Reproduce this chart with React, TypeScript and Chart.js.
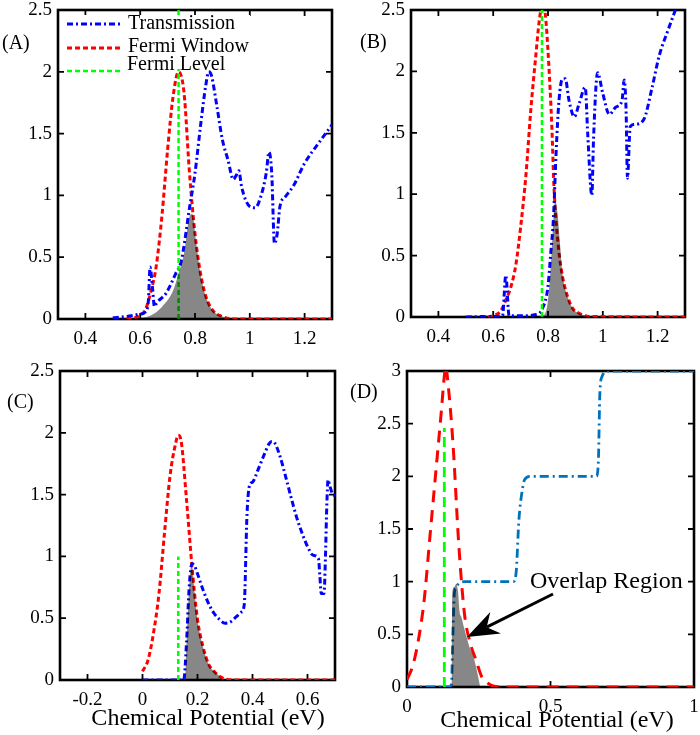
import React, { useEffect, useRef } from "react";
import { Chart, registerables } from "chart.js";

Chart.register(...registerables);

// ---------------- Data ----------------
// Panel A
const aTransX = [0.5, 0.55, 0.6, 0.62, 0.63, 0.636, 0.645, 0.652, 0.66, 0.695, 0.73, 0.75, 0.78, 0.8, 0.82, 0.84, 0.85, 0.86, 0.88, 0.9, 0.92, 0.94, 0.95, 0.96, 0.97, 1.0, 1.02, 1.04, 1.06, 1.07, 1.08, 1.09, 1.1, 1.11, 1.13, 1.16, 1.2, 1.25, 1.3];
const aTransY = [0.01, 0.02, 0.04, 0.06, 0.15, 0.42, 0.25, 0.1, 0.13, 0.21, 0.37, 0.47, 0.9, 1.18, 1.56, 1.9, 2.0, 1.97, 1.72, 1.45, 1.29, 1.13, 1.16, 1.2, 1.07, 0.91, 0.9, 0.99, 1.18, 1.35, 1.18, 0.61, 0.69, 0.91, 0.99, 1.08, 1.26, 1.42, 1.57];
const aWinX = [0.55, 0.58, 0.6, 0.62, 0.64, 0.658, 0.68, 0.7, 0.72, 0.74, 0.76, 0.78, 0.8, 0.82, 0.84, 0.865, 0.9, 0.95, 1.3];
const aWinY = [0.0, 0.01, 0.03, 0.08, 0.23, 0.42, 0.85, 1.37, 1.8, 2.0, 1.83, 1.18, 0.69, 0.37, 0.18, 0.07, 0.02, 0, 0];
const aLevelX = [0.74, 0.74];
const aLevelY = [0, 2.5];
const aOverX = [0.57, 0.64, 0.68, 0.72, 0.74, 0.76, 0.78, 0.79, 0.805, 0.82, 0.84, 0.865, 0.9, 0.93];
const aOverY = [0, 0.03, 0.1, 0.23, 0.37, 0.53, 0.83, 0.85, 0.61, 0.37, 0.18, 0.07, 0.02, 0];

// Panel B
const bTransX = [0.5, 0.6, 0.634, 0.646, 0.658, 0.7, 0.756, 0.78, 0.8, 0.81, 0.82, 0.83, 0.84, 0.853, 0.863, 0.877, 0.896, 0.914, 0.936, 0.945, 0.96, 0.966, 0.981, 1.0, 1.024, 1.048, 1.07, 1.078, 1.085, 1.09, 1.1, 1.12, 1.15, 1.18, 1.205, 1.237, 1.265];
const bTransY = [0, 0.005, 0.01, 0.34, 0.01, 0.01, 0.02, 0.07, 0.25, 0.52, 0.81, 1.36, 1.76, 1.94, 1.94, 1.76, 1.63, 1.74, 1.87, 1.49, 0.99, 1.44, 1.99, 1.82, 1.65, 1.71, 1.76, 1.93, 1.68, 1.13, 1.55, 1.57, 1.61, 1.87, 2.12, 2.33, 2.5];
const bWinX = [0.58, 0.6, 0.628, 0.646, 0.664, 0.683, 0.7, 0.72, 0.737, 0.756, 0.768, 0.78, 0.79, 0.802, 0.814, 0.822, 0.838, 0.853, 0.871, 0.89, 0.914, 0.95, 1.3];
const bWinY = [0, 0.01, 0.05, 0.14, 0.24, 0.43, 0.73, 1.17, 1.68, 2.14, 2.41, 2.55, 2.47, 2.09, 1.55, 1.05, 0.57, 0.33, 0.17, 0.07, 0.03, 0.005, 0];
const bLevelX = [0.778, 0.778];
const bLevelY = [0, 2.5];
const bOverX = [0.77, 0.79, 0.8, 0.81, 0.815, 0.82, 0.826, 0.835, 0.843, 0.853, 0.871, 0.89, 0.914, 0.95];
const bOverY = [0, 0.03, 0.14, 0.41, 0.6, 0.81, 0.95, 0.84, 0.62, 0.35, 0.17, 0.07, 0.03, 0];

// Panel C
const cTransX = [0, 0.15, 0.16, 0.17, 0.18, 0.19, 0.2, 0.22, 0.24, 0.26, 0.28, 0.3, 0.32, 0.34, 0.36, 0.37, 0.38, 0.39, 0.4, 0.42, 0.44, 0.46, 0.47, 0.48, 0.5, 0.52, 0.54, 0.56, 0.58, 0.6, 0.62, 0.64, 0.645, 0.65, 0.66, 0.665, 0.67, 0.675, 0.68, 0.69, 0.7];
const cTransY = [0, 0, 0.3, 0.76, 0.94, 0.92, 0.86, 0.73, 0.62, 0.54, 0.49, 0.46, 0.47, 0.51, 0.55, 0.61, 1.34, 1.58, 1.6, 1.7, 1.81, 1.91, 1.93, 1.92, 1.81, 1.65, 1.48, 1.32, 1.19, 1.08, 1.01, 0.98, 0.84, 0.7, 0.7, 0.97, 1.4, 1.62, 1.58, 1.51, 1.49];
const cWinX = [0, 0.02, 0.04, 0.06, 0.08, 0.1, 0.12, 0.13, 0.14, 0.16, 0.18, 0.2, 0.22, 0.24, 0.26, 0.28, 0.3, 0.35, 0.7];
const cWinY = [0.07, 0.16, 0.38, 0.7, 1.19, 1.65, 1.91, 1.98, 1.94, 1.46, 0.92, 0.49, 0.27, 0.13, 0.07, 0.03, 0.01, 0, 0];
const cLevelX = [0.13, 0.13];
const cLevelY = [0, 1.0];
const cOverX = [0.155, 0.16, 0.165, 0.17, 0.175, 0.18, 0.19, 0.2, 0.22, 0.24, 0.26, 0.28, 0.29];
const cOverY = [0, 0.3, 0.55, 0.76, 0.9, 0.92, 0.7, 0.49, 0.27, 0.13, 0.07, 0.03, 0];

// Panel D
const dTransX = [0, 0.15, 0.155, 0.16, 0.165, 0.17, 0.18, 0.2, 0.37, 0.38, 0.39, 0.4, 0.41, 0.43, 0.66, 0.667, 0.672, 0.68, 0.7, 1.0];
const dTransY = [0, 0, 0.04, 0.51, 0.89, 0.94, 0.98, 1.0, 1.0, 1.08, 1.59, 1.84, 1.97, 2.0, 2.0, 2.16, 2.79, 2.95, 3.0, 3.0];
const dWinX = [0, 0.02, 0.04, 0.06, 0.08, 0.1, 0.12, 0.13, 0.135, 0.14, 0.16, 0.18, 0.2, 0.22, 0.24, 0.26, 0.28, 0.3, 0.35, 1.0];
const dWinY = [0.07, 0.2, 0.45, 0.83, 1.43, 2.03, 2.63, 2.95, 3.05, 2.96, 2.32, 1.37, 0.7, 0.42, 0.26, 0.1, 0.04, 0.01, 0, 0];
const dLevelX = [0.13, 0.13];
const dLevelY = [0, 2.46];
const dOverX = [0.155, 0.158, 0.165, 0.172, 0.178, 0.183, 0.19, 0.2, 0.21, 0.22, 0.23, 0.24, 0.25, 0.255];
const dOverY = [0, 0.9, 0.95, 0.98, 0.9, 0.72, 0.66, 0.55, 0.45, 0.36, 0.3, 0.2, 0.07, 0];

// Ticks
const abXTicks = [0.4, 0.6, 0.8, 1, 1.2];
const cXTicks = [-0.2, 0, 0.2, 0.4, 0.6];
const dXTicks = [0, 0.5, 1];
const abcYTicks = [0, 0.5, 1, 1.5, 2, 2.5];
const dYTicks = [0, 0.5, 1, 1.5, 2, 2.5, 3];

// Texts
const legendLabels = ["Transmission", "Fermi Window", "Fermi Level"];
const panelLabels = ["(A)", "(B)", "(C)", "(D)"];
const xTitle = "Chemical Potential (eV)";
const overlapText = "Overlap Region";

// ---------------- Helpers ----------------
const FONT = "'Liberation Serif', 'Times New Roman', serif";

type Box = { x: number; y: number; w: number; h: number };
type Area = { l: number; t: number; r: number; b: number };

function pts(xs: number[], ys: number[]) {
  return xs.map((x, i) => ({ x, y: ys[i] }));
}

function lineDs(xs: number[], ys: number[], color: string, dash: number[], width: number, order: number, straight = false) {
  return {
    data: pts(xs, ys),
    borderColor: color,
    borderWidth: width,
    borderDash: dash,
    borderCapStyle: "butt",
    pointRadius: 0,
    fill: false,
    order,
    tension: 0,
    cubicInterpolationMode: straight ? "default" : "monotone",
  };
}

function fillDs(xs: number[], ys: number[]) {
  return {
    data: pts(xs, ys),
    borderColor: "rgba(0,0,0,0)",
    borderWidth: 0,
    backgroundColor: "rgba(0,0,0,0.47)",
    fill: "origin",
    pointRadius: 0,
    order: 0,
    cubicInterpolationMode: "monotone",
  };
}

function txt(ctx: CanvasRenderingContext2D, s: string, x: number, y: number, size: number, align: CanvasTextAlign = "left") {
  ctx.save();
  ctx.fillStyle = "#000";
  ctx.font = `${size}px ${FONT}`;
  ctx.textAlign = align;
  ctx.textBaseline = "middle";
  ctx.fillText(s, x, y);
  ctx.restore();
}

function dashLine(ctx: CanvasRenderingContext2D, x0: number, y0: number, x1: number, y1: number, color: string, dash: number[], w: number) {
  ctx.save();
  ctx.strokeStyle = color;
  ctx.lineWidth = w;
  ctx.setLineDash(dash);
  ctx.beginPath();
  ctx.moveTo(x0, y0);
  ctx.lineTo(x1, y1);
  ctx.stroke();
  ctx.restore();
}

function arrow(ctx: CanvasRenderingContext2D, x0: number, y0: number, x1: number, y1: number) {
  const dx = x1 - x0, dy = y1 - y0;
  const L = Math.hypot(dx, dy);
  const ux = dx / L, uy = dy / L, nx = -uy, ny = ux;
  const hl = 32, hw = 12, back = 22;
  ctx.save();
  ctx.strokeStyle = "#000";
  ctx.fillStyle = "#000";
  ctx.lineWidth = 3;
  ctx.beginPath();
  ctx.moveTo(x0, y0);
  ctx.lineTo(x1 - ux * back, y1 - uy * back);
  ctx.stroke();
  ctx.beginPath();
  ctx.moveTo(x1, y1);
  ctx.lineTo(x1 - ux * hl + nx * hw, y1 - uy * hl + ny * hw);
  ctx.lineTo(x1 - ux * back, y1 - uy * back);
  ctx.lineTo(x1 - ux * hl - nx * hw, y1 - uy * hl - ny * hw);
  ctx.closePath();
  ctx.fill();
  ctx.restore();
}

type PanelCfg = {
  box: Box;
  area: Area;
  xMin: number; xMax: number; yMin: number; yMax: number;
  xTicks: number[]; yTicks: number[];
  datasets: any[];
  extra: (ctx: CanvasRenderingContext2D) => void; // drawn in page coordinates
};

const fmt = (v: any) => String(Math.round(Number(v) * 100) / 100);

const framePlugin = {
  id: "frame",
  beforeDatasetsDraw(chart: any) {
    const { ctx, chartArea: a, scales } = chart;
    const xs = scales.x, ys = scales.y;
    ctx.save();
    ctx.strokeStyle = "#000";
    ctx.lineWidth = 1.8;
    ctx.beginPath();
    xs.ticks.forEach((t: any) => {
      const p = xs.getPixelForValue(t.value);
      ctx.moveTo(p, a.bottom); ctx.lineTo(p, a.bottom - 6);
      ctx.moveTo(p, a.top); ctx.lineTo(p, a.top + 6);
    });
    ys.ticks.forEach((t: any) => {
      const p = ys.getPixelForValue(t.value);
      ctx.moveTo(a.left, p); ctx.lineTo(a.left + 6, p);
      ctx.moveTo(a.right, p); ctx.lineTo(a.right - 6, p);
    });
    ctx.stroke();
    ctx.lineWidth = 2.6;
    ctx.strokeRect(a.left, a.top, a.right - a.left, a.bottom - a.top);
    ctx.restore();
  },
};

function makeConfig(cfg: PanelCfg): any {
  const { box, area } = cfg;
  const yW = area.l - box.x;
  const xH = box.y + box.h - area.b;
  const extraPlugin = {
    id: "extra",
    afterDraw(chart: any) {
      const ctx = chart.ctx as CanvasRenderingContext2D;
      ctx.save();
      ctx.translate(-box.x, -box.y);
      cfg.extra(ctx);
      ctx.restore();
    },
  };
  return {
    type: "line",
    data: { datasets: cfg.datasets },
    options: {
      animation: false,
      responsive: false,
      devicePixelRatio: 1,
      layout: { padding: { top: area.t - box.y, right: box.x + box.w - area.r, left: 0, bottom: 0 } },
      plugins: { legend: { display: false }, tooltip: { enabled: false } },
      scales: {
        x: {
          type: "linear",
          min: cfg.xMin,
          max: cfg.xMax,
          grid: { display: false, drawTicks: false },
          border: { display: false },
          ticks: { font: { family: FONT, size: 19 }, color: "#000", padding: 9, maxRotation: 0, autoSkip: false, callback: fmt },
          afterBuildTicks: (s: any) => { s.ticks = cfg.xTicks.map((v) => ({ value: v })); },
          afterFit: (s: any) => { s.height = xH; s.paddingLeft = 0; s.paddingRight = 0; s.paddingTop = 0; s.paddingBottom = 0; },
        },
        y: {
          type: "linear",
          min: cfg.yMin,
          max: cfg.yMax,
          grid: { display: false, drawTicks: false },
          border: { display: false },
          ticks: { font: { family: FONT, size: 19 }, color: "#000", padding: 6, autoSkip: false, callback: fmt },
          afterBuildTicks: (s: any) => { s.ticks = cfg.yTicks.map((v) => ({ value: v })); },
          afterFit: (s: any) => { s.width = yW; s.paddingLeft = 0; s.paddingRight = 0; s.paddingTop = 0; s.paddingBottom = 0; },
        },
      },
    },
    plugins: [framePlugin, extraPlugin],
  };
}

const BLUE = "#0000ff";
const RED = "#ff0000";
const GREEN = "#00ff00";
const DBLUE = "#0072BD";
const dashBlue = [6, 3, 2, 3];
const dashRed = [5, 3];
const dashGreen = [5, 3];

function stdSets(tx: number[], ty: number[], wx: number[], wy: number[], lx: number[], ly: number[], ox: number[], oy: number[]) {
  return [
    fillDs(ox, oy),
    lineDs(lx, ly, GREEN, dashGreen, 2.5, 1, true),
    lineDs(tx, ty, BLUE, dashBlue, 3, 2),
    lineDs(wx, wy, RED, dashRed, 3, 3),
  ];
}

const panels: PanelCfg[] = [
  {
    box: { x: 0, y: 0, w: 350, h: 360 },
    area: { l: 58, t: 10, r: 332, b: 319 },
    xMin: 0.3, xMax: 1.3, yMin: 0, yMax: 2.5,
    xTicks: abXTicks, yTicks: abcYTicks,
    datasets: stdSets(aTransX, aTransY, aWinX, aWinY, aLevelX, aLevelY, aOverX, aOverY),
    extra: (ctx) => {
      ctx.save();
      ctx.fillStyle = "#fff";
      ctx.fillRect(60, 15, 190, 54);
      ctx.restore();
      dashLine(ctx, 67, 24, 122, 24, BLUE, dashBlue, 3);
      dashLine(ctx, 67, 48, 122, 48, RED, dashRed, 3);
      dashLine(ctx, 67, 71, 122, 71, GREEN, dashGreen, 2.5);
      txt(ctx, legendLabels[0], 128, 24, 20);
      txt(ctx, legendLabels[1], 128, 47, 20);
      txt(ctx, legendLabels[2], 127, 65, 20);
      txt(ctx, panelLabels[0], 2, 44, 20);
    },
  },
  {
    box: { x: 350, y: 0, w: 350, h: 360 },
    area: { l: 411, t: 10, r: 685, b: 317 },
    xMin: 0.3, xMax: 1.3, yMin: 0, yMax: 2.5,
    xTicks: abXTicks, yTicks: abcYTicks,
    datasets: stdSets(bTransX, bTransY, bWinX, bWinY, bLevelX, bLevelY, bOverX, bOverY),
    extra: (ctx) => {
      txt(ctx, panelLabels[1], 360, 43, 20);
    },
  },
  {
    box: { x: 0, y: 360, w: 350, h: 375 },
    area: { l: 60, t: 371, r: 335, b: 680 },
    xMin: -0.3, xMax: 0.7, yMin: 0, yMax: 2.5,
    xTicks: cXTicks, yTicks: abcYTicks,
    datasets: stdSets(cTransX, cTransY, cWinX, cWinY, cLevelX, cLevelY, cOverX, cOverY),
    extra: (ctx) => {
      txt(ctx, panelLabels[2], 7, 403, 20);
      txt(ctx, xTitle, 208, 719, 24, "center");
    },
  },
  {
    box: { x: 350, y: 360, w: 350, h: 375 },
    area: { l: 407, t: 371, r: 694, b: 687 },
    xMin: 0, xMax: 1, yMin: 0, yMax: 3,
    xTicks: dXTicks, yTicks: dYTicks,
    datasets: [
      fillDs(dOverX, dOverY),
      lineDs(dLevelX, dLevelY, GREEN, [10, 5], 2.8, 1, true),
      lineDs(dTransX, dTransY, DBLUE, [9, 4, 2, 4], 2.8, 2),
      lineDs(dWinX, dWinY, RED, [12, 8], 3, 3),
    ],
    extra: (ctx) => {
      txt(ctx, panelLabels[3], 350, 393, 20);
      txt(ctx, xTitle, 557, 721, 24, "center");
      txt(ctx, overlapText, 530, 582, 24);
      arrow(ctx, 553, 594, 467, 637);
    },
  },
];

function Panel({ cfg }: { cfg: PanelCfg }) {
  const ref = useRef<HTMLCanvasElement>(null);
  useEffect(() => {
    const chart = new Chart(ref.current as HTMLCanvasElement, makeConfig(cfg));
    return () => chart.destroy();
  }, [cfg]);
  return (
    <canvas
      ref={ref}
      width={cfg.box.w}
      height={cfg.box.h}
      style={{ position: "absolute", left: cfg.box.x, top: cfg.box.y, width: cfg.box.w, height: cfg.box.h }}
    />
  );
}

export default function App() {
  return (
    <div style={{ position: "absolute", left: 0, top: 0, width: 700, height: 735, background: "#fff", overflow: "hidden" }}>
      {panels.map((p, i) => (
        <Panel key={i} cfg={p} />
      ))}
    </div>
  );
}
